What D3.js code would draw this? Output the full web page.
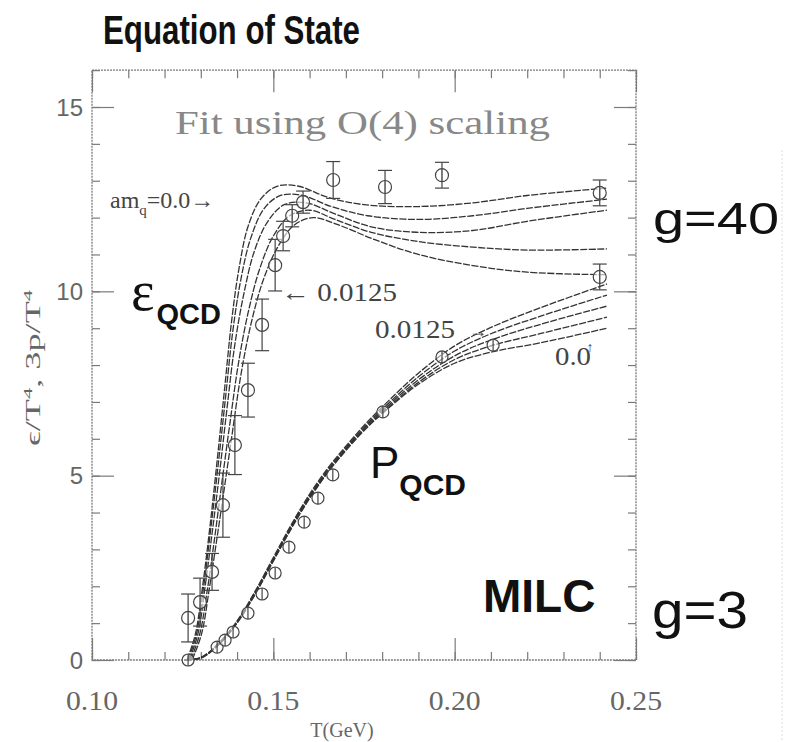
<!DOCTYPE html>
<html>
<head>
<meta charset="utf-8">
<script src="https://cdn.jsdelivr.net/npm/d3@7"></script>
<style>
  html, body { margin: 0; padding: 0; background: #fff; }
  svg { display: block; }
</style>
</head>
<body>
<svg id="chart" width="789" height="742"></svg>
<script>
// Energy density fits (T in GeV, epsilon/T^4), one per quark mass
const epsFit0 = [[0.1262,0],[0.1285,0.7],[0.1305,2.0],[0.1325,3.6],[0.1345,5.4],[0.1365,7.3],[0.1385,9.2],[0.1405,10.6],[0.1430,11.75],[0.1465,12.5],[0.1510,12.85],[0.1570,12.85],[0.1650,12.55],[0.1750,12.35],[0.1900,12.3],[0.2050,12.4],[0.2200,12.6],[0.2420,12.8]];
const epsFit1 = [[0.1265,0],[0.1288,0.7],[0.1308,2.0],[0.1328,3.6],[0.1348,5.3],[0.1368,7.1],[0.1388,8.9],[0.1410,10.3],[0.1438,11.45],[0.1475,12.25],[0.1520,12.6],[0.1580,12.6],[0.1660,12.3],[0.1760,12.05],[0.1900,11.95],[0.2050,12.05],[0.2200,12.25],[0.2420,12.5]];
const epsFit2 = [[0.1268,0],[0.1292,0.7],[0.1312,2.0],[0.1332,3.5],[0.1352,5.1],[0.1372,6.8],[0.1393,8.5],[0.1418,9.9],[0.1448,11.1],[0.1485,11.9],[0.1530,12.35],[0.1590,12.4],[0.1670,12.1],[0.1770,11.75],[0.1900,11.6],[0.2050,11.65],[0.2200,11.9],[0.2420,12.2]];
const epsFit3 = [[0.1272,0],[0.1297,0.7],[0.1318,1.9],[0.1338,3.3],[0.1358,4.8],[0.1380,6.4],[0.1403,8.0],[0.1430,9.4],[0.1462,10.6],[0.1500,11.5],[0.1545,12.05],[0.1600,12.2],[0.1670,11.95],[0.1770,11.6],[0.1900,11.35],[0.2050,11.2],[0.2200,11.12],[0.2420,11.15]];
const epsFit4 = [[0.1276,0],[0.1302,0.7],[0.1323,1.9],[0.1343,3.2],[0.1364,4.6],[0.1386,6.1],[0.1410,7.7],[0.1438,9.1],[0.1472,10.3],[0.1512,11.2],[0.1558,11.8],[0.1610,12.0],[0.1680,11.8],[0.1780,11.4],[0.1900,11.0],[0.2050,10.7],[0.2200,10.52],[0.2420,10.45]];

// Pressure fits (T in GeV, 3p/T^4)
const presFit0 = [[0.1255,0],[0.1300,0.05],[0.1350,0.42],[0.1400,1.0],[0.1450,1.78],[0.1500,2.68],[0.1550,3.57],[0.1600,4.38],[0.1650,5.08],[0.1700,5.68],[0.1750,6.22],[0.1800,6.68],[0.1900,7.48],[0.2000,8.05],[0.2100,8.35],[0.2235,8.6],[0.2420,9.0]];
const presFit1 = [[0.1255,0],[0.1300,0.05],[0.1350,0.43],[0.1400,1.01],[0.1450,1.8],[0.1500,2.7],[0.1550,3.59],[0.1600,4.4],[0.1650,5.1],[0.1700,5.7],[0.1750,6.25],[0.1800,6.71],[0.1900,7.53],[0.2000,8.15],[0.2100,8.52],[0.2235,8.85],[0.2420,9.3]];
const presFit2 = [[0.1255,0],[0.1300,0.06],[0.1350,0.44],[0.1400,1.03],[0.1450,1.82],[0.1500,2.72],[0.1550,3.62],[0.1600,4.43],[0.1650,5.13],[0.1700,5.73],[0.1750,6.28],[0.1800,6.75],[0.1900,7.6],[0.2000,8.25],[0.2100,8.68],[0.2235,9.1],[0.2420,9.6]];
const presFit3 = [[0.1255,0],[0.1300,0.06],[0.1350,0.45],[0.1400,1.04],[0.1450,1.84],[0.1500,2.75],[0.1550,3.65],[0.1600,4.46],[0.1650,5.16],[0.1700,5.76],[0.1750,6.31],[0.1800,6.8],[0.1900,7.68],[0.2000,8.38],[0.2100,8.85],[0.2235,9.32],[0.2420,9.9]];
const presFit4 = [[0.1255,0],[0.1300,0.07],[0.1350,0.46],[0.1400,1.06],[0.1450,1.87],[0.1500,2.78],[0.1550,3.68],[0.1600,4.5],[0.1650,5.2],[0.1700,5.8],[0.1750,6.36],[0.1800,6.86],[0.1900,7.78],[0.2000,8.52],[0.2100,9.02],[0.2235,9.55],[0.2420,10.2]];

// Lattice points: temperature, epsilon/T^4 and its error
const epsT   = [0.1265,0.1298,0.1331,0.1361,0.1394,0.1430,0.1469,0.1505,0.1527,0.1552,0.1582,0.1665,0.1808,0.1965,0.2400,0.2400];
const epsVal = [1.14,1.57,2.39,4.2,5.83,7.32,9.09,10.71,11.5,12.05,12.42,13.02,12.83,13.15,12.67,10.39];
const epsErr = [0.65,0.65,0.5,0.87,0.8,0.73,0.7,0.7,0.4,0.3,0.3,0.5,0.45,0.35,0.35,0.35];

// Lattice points: temperature, 3p/T^4
const presT   = [0.1265,0.1345,0.1367,0.1389,0.1430,0.1469,0.1505,0.1543,0.1585,0.1623,0.1664,0.1802,0.1965,0.2106];
const presVal = [0.0,0.35,0.54,0.76,1.27,1.79,2.36,3.06,3.74,4.39,5.02,6.73,8.22,8.54];

// Axis ticks
const xMajor = [0.10,0.15,0.20,0.25];
const xLabels = ["0.10","0.15","0.20","0.25"];
const yMajor = [0,5,10,15];
const yLabels = ["0","5","10","15"];

const svg = d3.select("#chart");
const x = d3.scaleLinear().domain([0.10,0.25]).range([92,636]);
const y = d3.scaleLinear().domain([0,15]).range([660,107]);
const frameTop = y(16), frameBottom = y(0), frameLeft = x(0.10), frameRight = x(0.25);

const frameColor = "#7a7a7a";
const ink = "#333";
const serif = "'Liberation Serif','DejaVu Serif',serif";
const sans = "'Liberation Sans',Arial,Helvetica,sans-serif";

// Title
svg.append("text").attr("x",103).attr("y",44)
  .attr("font-family",sans).attr("font-weight","bold").attr("font-size",41)
  .attr("textLength",257).attr("lengthAdjust","spacingAndGlyphs")
  .attr("fill","#111").text("Equation of State");

// Frame (dotted, like a scanned plot border)
svg.append("rect").attr("x",frameLeft).attr("y",frameTop)
  .attr("width",frameRight-frameLeft).attr("height",frameBottom-frameTop)
  .attr("fill","none").attr("stroke",frameColor).attr("stroke-width",1.3).attr("stroke-dasharray","2,1");

// faint slide edge on the right
svg.append("line").attr("x1",782).attr("x2",782).attr("y1",150).attr("y2",742)
  .attr("stroke","#ddd").attr("stroke-width",1).attr("stroke-dasharray","2,2");

// Ticks via d3 axes, pointing inwards
const xMinor = d3.range(0.10,0.2501,0.01);
const yMinor = d3.range(0,16.01,1);
function tickGroup(axis, tx, ty){
  const g = svg.append("g").attr("transform",`translate(${tx},${ty})`).call(axis);
  g.select(".domain").remove();
  g.selectAll("line").attr("stroke",frameColor).attr("stroke-width",1.2);
  g.selectAll("text").remove();
  return g;
}
tickGroup(d3.axisBottom(x).tickValues(xMinor).tickSize(-8).tickSizeOuter(0), 0, frameBottom);
tickGroup(d3.axisBottom(x).tickValues(xMajor).tickSize(-22).tickSizeOuter(0), 0, frameBottom);
tickGroup(d3.axisTop(x).tickValues(xMinor).tickSize(-8).tickSizeOuter(0), 0, frameTop);
tickGroup(d3.axisTop(x).tickValues(xMajor).tickSize(-22).tickSizeOuter(0), 0, frameTop);
tickGroup(d3.axisLeft(y).tickValues(yMinor).tickSize(-8).tickSizeOuter(0), frameLeft, 0);
tickGroup(d3.axisLeft(y).tickValues(yMajor).tickSize(-22).tickSizeOuter(0), frameLeft, 0);
tickGroup(d3.axisRight(y).tickValues(yMinor).tickSize(-8).tickSizeOuter(0), frameRight, 0);
tickGroup(d3.axisRight(y).tickValues(yMajor).tickSize(-22).tickSizeOuter(0), frameRight, 0);

// Tick labels
svg.append("g").selectAll("text").data(xMajor).join("text")
  .attr("x",d=>x(d)).attr("y",710).attr("text-anchor","middle")
  .attr("font-family",serif).attr("font-size",27).attr("fill","#666")
  .attr("textLength",52).attr("lengthAdjust","spacingAndGlyphs")
  .text((d,i)=>xLabels[i]);
svg.append("g").selectAll("text").data(yMajor).join("text")
  .attr("x",83).attr("y",d=>y(d)).attr("dy","0.36em").attr("text-anchor","end")
  .attr("font-family",sans).attr("font-size",24).attr("fill","#666")
  .text((d,i)=>yLabels[i]);

// Axis titles
svg.append("text").attr("x",342).attr("y",737).attr("text-anchor","middle")
  .attr("font-family",serif).attr("font-size",20).attr("fill","#666").text("T(GeV)");
const yTitle = svg.append("text").attr("transform","translate(40,368) rotate(-90)").attr("text-anchor","middle")
  .attr("font-family",serif).attr("font-size",21).attr("fill","#666")
  .attr("textLength",156).attr("lengthAdjust","spacingAndGlyphs");
yTitle.append("tspan").text("\u03F5/T");
yTitle.append("tspan").attr("dy",-8).attr("font-size",13).text("4");
yTitle.append("tspan").attr("dy",8).text(", 3p/T");
yTitle.append("tspan").attr("dy",-8).attr("font-size",13).text("4");

// Fit curves
const line = d3.line().x(d=>x(d[0])).y(d=>y(d[1])).curve(d3.curveCatmullRom.alpha(0.5));
const fits = [epsFit0,epsFit1,epsFit2,epsFit3,epsFit4,presFit0,presFit1,presFit2,presFit3,presFit4];
svg.append("g").selectAll("path").data(fits).join("path")
  .attr("d",line).attr("fill","none").attr("stroke",ink).attr("stroke-width",1.3)
  .attr("stroke-dasharray","7,1.5");

// Data points with error bars
const epsPts = epsT.map((t,i)=>({t, v:epsVal[i], e:epsErr[i]}));
const gE = svg.append("g").attr("stroke","#444").attr("fill","none").attr("stroke-width",1.2);
epsPts.forEach(p=>{
  const cx = x(p.t), y1 = y(p.v+p.e), y2 = y(p.v-p.e);
  gE.append("line").attr("x1",cx).attr("x2",cx).attr("y1",y1).attr("y2",y2);
  gE.append("line").attr("x1",cx-7).attr("x2",cx+7).attr("y1",y1).attr("y2",y1);
  gE.append("line").attr("x1",cx-7).attr("x2",cx+7).attr("y1",y2).attr("y2",y2);
  gE.append("circle").attr("cx",cx).attr("cy",y(p.v)).attr("r",6.5).attr("fill","#fff").attr("fill-opacity",0.6);
  gE.append("line").attr("x1",cx).attr("x2",cx).attr("y1",y(p.v)-6.5).attr("y2",y(p.v)+6.5);
});
const gP = svg.append("g").attr("stroke","#444").attr("fill","none").attr("stroke-width",1.2);
presT.forEach((t,i)=>{
  const cx = x(t), cy = y(presVal[i]);
  gP.append("circle").attr("cx",cx).attr("cy",cy).attr("r",6).attr("fill","#fff").attr("fill-opacity",0.5);
  gP.append("line").attr("x1",cx).attr("x2",cx).attr("y1",cy-6).attr("y2",cy+6);
});

// In-plot annotations
svg.append("text").attr("x",175).attr("y",134)
  .attr("font-family",serif).attr("font-size",33).attr("fill","#888")
  .attr("textLength",375).attr("lengthAdjust","spacingAndGlyphs")
  .text("Fit using O(4) scaling");

const am = svg.append("text").attr("x",110).attr("y",208)
  .attr("font-family",serif).attr("font-size",24).attr("fill","#444");
am.append("tspan").text("am");
am.append("tspan").attr("font-size",15).attr("dy",7).text("q");
am.append("tspan").attr("dy",-7).text("=0.0\u2192");

svg.append("text").attr("x",281).attr("y",301)
  .attr("font-family",serif).attr("font-size",25).attr("fill","#444")
  .attr("textLength",116).attr("lengthAdjust","spacingAndGlyphs").text("\u2190 0.0125");
svg.append("text").attr("x",375).attr("y",338)
  .attr("font-family",serif).attr("font-size",25).attr("fill","#444")
  .attr("textLength",80).attr("lengthAdjust","spacingAndGlyphs").text("0.0125");
svg.append("text").attr("x",478).attr("y",337).attr("text-anchor","middle")
  .attr("font-family",serif).attr("font-size",18).attr("fill","#444").text("\u2192");
svg.append("text").attr("x",555).attr("y",365)
  .attr("font-family",serif).attr("font-size",25).attr("fill","#444")
  .attr("textLength",36).attr("lengthAdjust","spacingAndGlyphs").text("0.0");
svg.append("text").attr("x",590).attr("y",352).attr("text-anchor","middle")
  .attr("font-family",serif).attr("font-size",14).attr("fill","#444").text("\u2191");

// Big labels
const eps = svg.append("text").attr("x",131).attr("y",310).attr("fill","#111");
eps.append("tspan").attr("font-family",serif).attr("font-size",56).text("\u03B5");
eps.append("tspan").attr("font-family",sans).attr("font-weight","bold").attr("font-size",29).attr("dy",14).attr("dx",2).text("QCD");

const pq = svg.append("text").attr("x",370).attr("y",478).attr("fill","#111").attr("font-family",sans);
pq.append("tspan").attr("font-size",44).text("P");
pq.append("tspan").attr("font-size",30).attr("font-weight","bold").attr("dy",17).text("QCD");

svg.append("text").attr("x",483).attr("y",612).attr("font-family",sans).attr("font-weight","bold")
  .attr("font-size",46).attr("fill","#111").text("MILC");
svg.append("text").attr("x",653).attr("y",234).attr("font-family",sans)
  .attr("font-size",44).attr("fill","#111").attr("textLength",126).attr("lengthAdjust","spacingAndGlyphs").text("g=40");
svg.append("text").attr("x",652).attr("y",628).attr("font-family",sans)
  .attr("font-size",52).attr("fill","#111").attr("textLength",96).attr("lengthAdjust","spacingAndGlyphs").text("g=3");
</script>
</body>
</html>
